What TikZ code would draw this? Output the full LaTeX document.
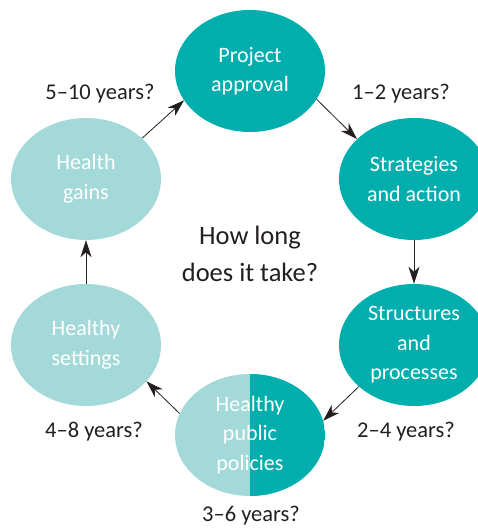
\documentclass[tikz,border=0pt]{standalone}
\usepackage{fontspec}
\setmainfont{Carlito}
\usetikzlibrary{shapes.geometric, arrows.meta}
\definecolor{tealdark}{RGB}{0,174,173}
\definecolor{teallight}{RGB}{163,217,216}
\definecolor{inkgray}{RGB}{35,31,32}
\newcommand{\drawa}{\draw[line width=0.8pt, color=inkgray, ->]}

\begin{document}
\begin{tikzpicture}[x=1pt, y=1pt, >={Stealth[length=17pt, width=11pt, inset=5pt]},
  stage/.style={ellipse, minimum width=150pt, minimum height=122pt, inner sep=0pt,
    text=white, align=center, font=\fontsize{22}{29.5}\selectfont},
  darkstage/.style={stage, fill=tealdark},
  lightstage/.style={stage, fill=teallight},
  years/.style={anchor=base, text=inkgray, font=\fontsize{22.5}{25}\selectfont}]
\clip (0,0) rectangle (478,530);
% Stages
\node[darkstage] (approval) at (250,459) {Project\\approval};
\node[darkstage] (strategies) at (414,351) {Strategies\\and action};
\node[darkstage] (structures) at (414,185) {Structures\\and\\processes};
\node[lightstage, path picture={\fill[tealdark] (path picture bounding box.south) rectangle (path picture bounding box.north east);}] (policies) at (250,95) {Healthy\\public\\policies};
\node[lightstage] (settings) at (86,185) {Healthy\\settings};
\node[lightstage] (gains) at (86,351) {Health\\gains};

% Question in the middle
\node[text=inkgray, align=center, font=\fontsize{26.5}{37}\selectfont] (question) at (250,276) {How long\\does it take?};

% Times
\node[years] (t1) at (100,430) {5--10 years?};
\node[years] (t2) at (401,430) {1--2 years?};
\node[years] (t3) at (406,92) {2--4 years?};
\node[years] (t4) at (251,9) {3--6 years?};
\node[years] (t5) at (94,92) {4--8 years?};

% Arrows
\drawa (gains.36) -- (approval.204);
\drawa (approval.-23) -- (strategies.145);
\drawa (strategies) -- (structures);
\drawa (structures.217) -- (policies.11);
\drawa (policies.163) -- (settings.-31);
\drawa (settings) -- (gains);

\end{tikzpicture}
\end{document}
